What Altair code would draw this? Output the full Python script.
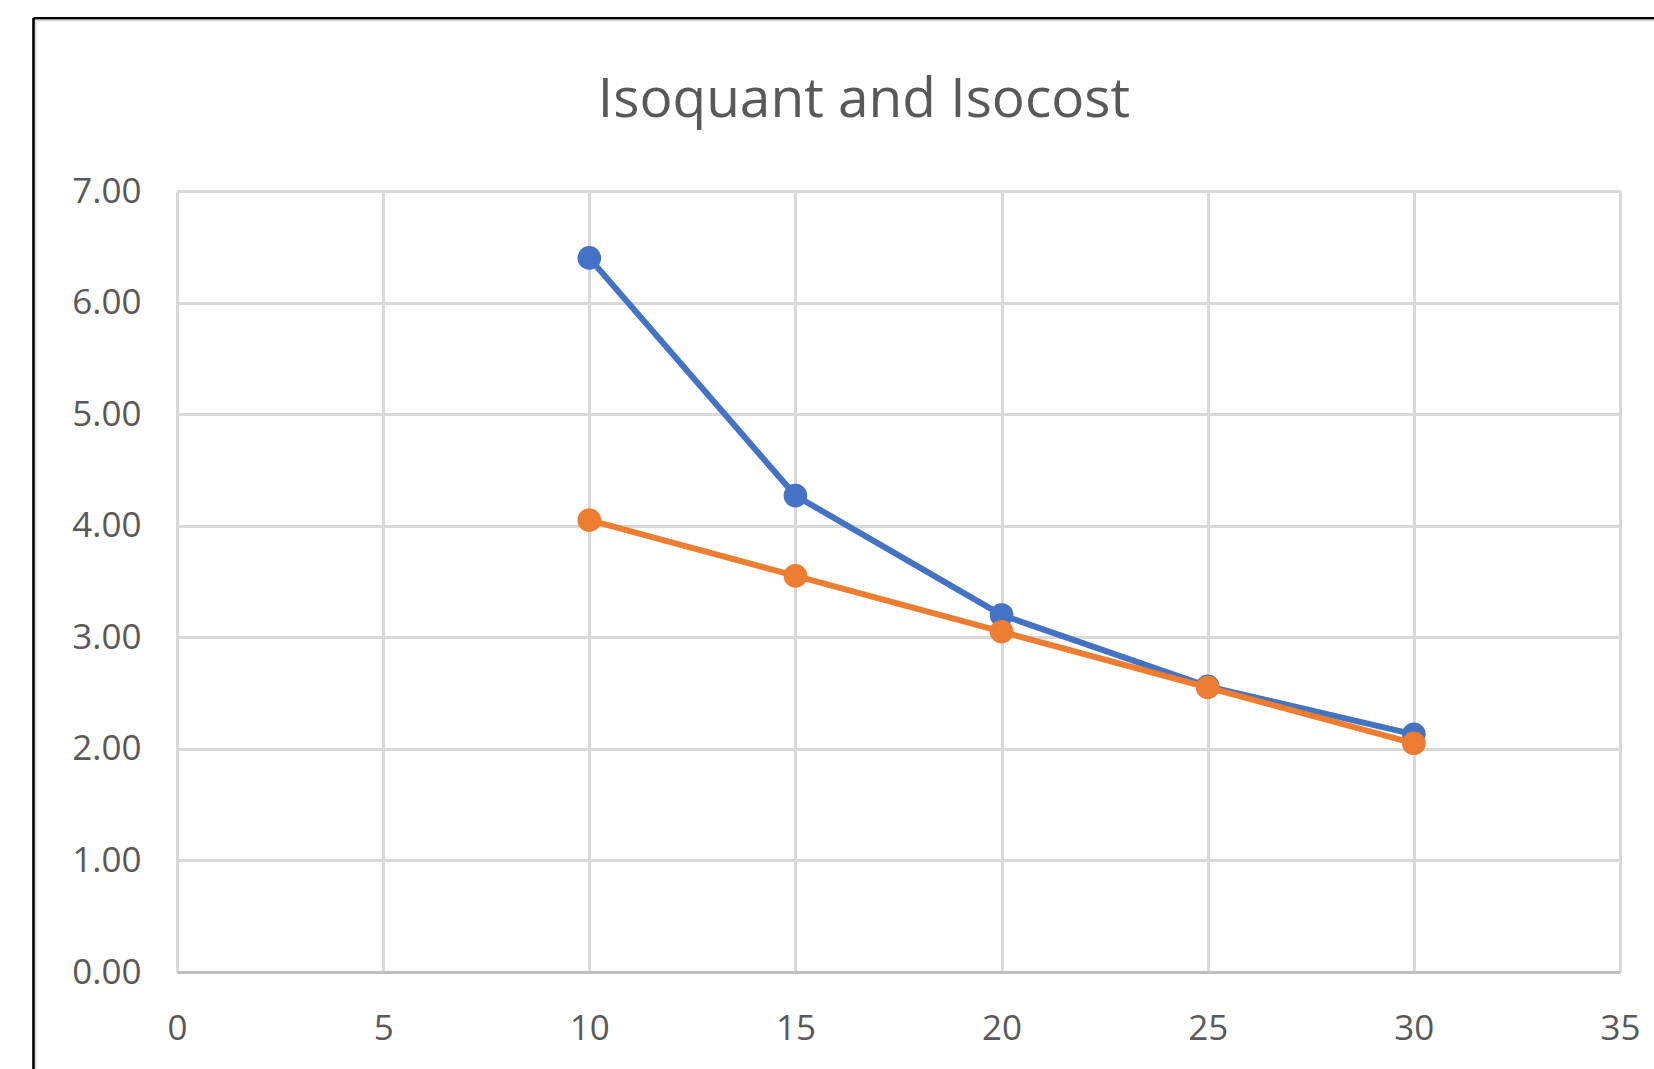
import altair as alt
import pandas as pd

# Labour (x) and capital (y) combinations for the two curves
labour = [10, 15, 20, 25, 30]
isoquant_capital = [6.40, 4.27, 3.20, 2.56, 2.13]
isocost_capital = [4.05, 3.55, 3.05, 2.55, 2.05]

x_ticks = [0, 5, 10, 15, 20, 25, 30, 35]
y_ticks = [0, 1, 2, 3, 4, 5, 6, 7]

title_text = "Isoquant and Isocost"

series_names = ["Isoquant", "Isocost"]
series_colors = ["#4472C4", "#ED7D31"]

df = pd.DataFrame({
    "L": labour * 2,
    "K": isoquant_capital + isocost_capital,
    "series": [series_names[0]] * len(labour) + [series_names[1]] * len(labour),
})

FONT = "Open Sans"
TEXT = "#595959"
W, H = 1443, 781

x_enc = alt.X("L:Q", scale=alt.Scale(domain=[0, 35], nice=False),
              axis=alt.Axis(values=x_ticks, title=None, labelFontSize=35,
                            labelPadding=56, labelBaseline="middle",
                            labelFlush=False, labelOverlap=False,
                            domain=True, domainColor="#bfbfbf", domainWidth=3))
y_enc = alt.Y("K:Q", scale=alt.Scale(domain=[0, 7], nice=False),
              axis=alt.Axis(values=y_ticks, format=".2f", title=None,
                            labelFontSize=35, labelPadding=36,
                            labelBaseline="middle", labelFlush=False,
                            labelOverlap=False, domain=False))
color_enc = alt.Color("series:N", legend=None,
                      scale=alt.Scale(domain=series_names, range=series_colors))

layers = []
for name in series_names:
    base = alt.Chart(df).transform_filter(alt.datum.series == name)
    layers.append(base.mark_line(strokeWidth=6).encode(x=x_enc, y=y_enc, color=color_enc))
    layers.append(base.mark_circle(size=560, opacity=1).encode(x=x_enc, y=y_enc, color=color_enc))

one = pd.DataFrame({"k": [0]})

# Chart-area frame: dark outer edge with a faint inner edge
frame_left = alt.Chart(one).mark_rule(color="black", strokeWidth=2.6).encode(
    x=alt.value(-143.5), y=alt.value(-173), y2=alt.value(H + 200))
frame_top = alt.Chart(one).mark_rule(color="black", strokeWidth=2.6).encode(
    y=alt.value(-172.7), x=alt.value(-143.5), x2=alt.value(W + 200))
inner_left = alt.Chart(one).mark_rule(color="#d9d9d9", strokeWidth=1.5).encode(
    x=alt.value(-141.2), y=alt.value(-171), y2=alt.value(H + 200))
inner_top = alt.Chart(one).mark_rule(color="#d9d9d9", strokeWidth=1.5).encode(
    y=alt.value(-170.5), x=alt.value(-141.5), x2=alt.value(W + 200))

title = alt.Chart(one).mark_text(
    text=title_text, font=FONT, fontSize=55, color=TEXT,
    align="center", baseline="middle").encode(
    x=alt.value(687), y=alt.value(-91))

chart = alt.layer(frame_left, frame_top, inner_left, inner_top, title, *layers).properties(
    width=W, height=H,
    autosize=alt.AutoSizeParams(type="none"),
    padding={"left": 177, "top": 191, "right": 34, "bottom": 97},
    background="white",
).configure_view(stroke=None).configure_axis(
    grid=True, gridColor="#d9d9d9", gridWidth=3, ticks=False,
    labelFont=FONT, labelColor=TEXT,
)

chart.save("out.html", embed_options={"renderer": "svg", "actions": False})
